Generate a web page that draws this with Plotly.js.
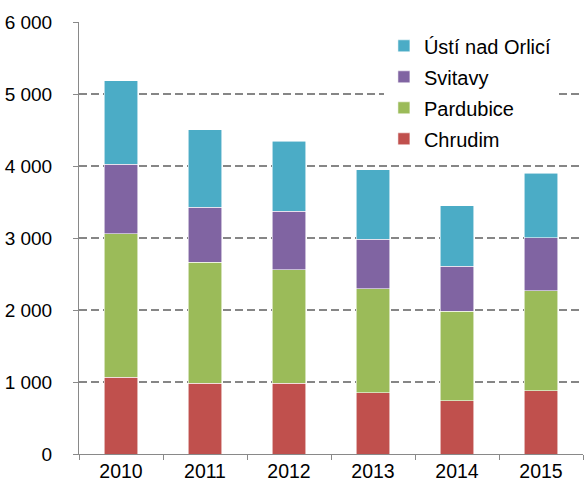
<!DOCTYPE html>
<html>
<head>
<meta charset="utf-8">
<script src="https://cdn.plot.ly/plotly-3.0.1.min.js"></script>
<style>html,body{margin:0;padding:0;background:#fff;}#chart{width:586px;height:487px;}</style>
</head>
<body>
<div id="chart"></div>
<script>
var years = ["2010", "2011", "2012", "2013", "2014", "2015"];
var chrudim = [1064, 980, 980, 850, 738, 877];
var pardubice = [1996, 1680, 1578, 1444, 1245, 1393];
var svitavy = [965, 766, 812, 687, 627, 734];
var usti = [1162, 1078, 975, 970, 840, 892];
var seriesNames = ["Chrudim", "Pardubice", "Svitavy", "Ústí nad Orlicí"];
var seriesColors = ["#C0504D", "#9BBB59", "#8064A2", "#4BACC6"];
var yTickVals = [0, 1000, 2000, 3000, 4000, 5000, 6000];
var yTickText = ["0", "1 000", "2 000", "3 000", "4 000", "5 000", "6 000"];

var seriesValues = [chrudim, pardubice, svitavy, usti];
var traces = seriesValues.map(function (vals, i) {
  return {
    type: "bar",
    name: seriesNames[i],
    legendgroup: "g" + i,
    legendrank: 1000 - i,
    x: years,
    y: vals,
    marker: {color: seriesColors[i], line: {color: "rgba(255,255,255,0.7)", width: 0.8}},
    hoverinfo: "x+y+name"
  };
});

var layout = {
  width: 586,
  height: 487,
  barmode: "stack",
  bargap: 0.6,
  margin: {l: 79, r: 3, t: 22, b: 33},
  paper_bgcolor: "#ffffff",
  plot_bgcolor: "#ffffff",
  font: {family: "Liberation Sans, Arial, sans-serif", color: "#000000", size: 19},
  showlegend: true,
  legend: {
    traceorder: "grouped",
    tracegroupgap: 2,
    x: 0.605, xanchor: "left",
    y: 0.99, yanchor: "top",
    bgcolor: "#ffffff",
    font: {size: 20, color: "#000000"},
    itemwidth: 30
  },
  xaxis: {
    type: "category",
    showline: true,
    linecolor: "#898989",
    linewidth: 1,
    ticks: "outside",
    tickson: "boundaries",
    ticklen: 5,
    tickcolor: "#898989",
    tickfont: {size: 19.5},
    showgrid: false,
    zeroline: false
  },
  yaxis: {
    range: [0, 6000],
    tickvals: yTickVals,
    ticktext: yTickText,
    showline: true,
    linecolor: "#898989",
    linewidth: 1,
    ticks: "outside",
    ticklen: 5,
    tickcolor: "#898989",
    tickfont: {size: 19},
    ticklabelstandoff: 17,
    showgrid: true,
    gridcolor: "#868686",
    gridwidth: 1.6,
    griddash: "8px,4px",
    zeroline: false
  }
};

Plotly.newPlot("chart", traces, layout, {displayModeBar: false, staticPlot: true});
</script>
</body>
</html>
